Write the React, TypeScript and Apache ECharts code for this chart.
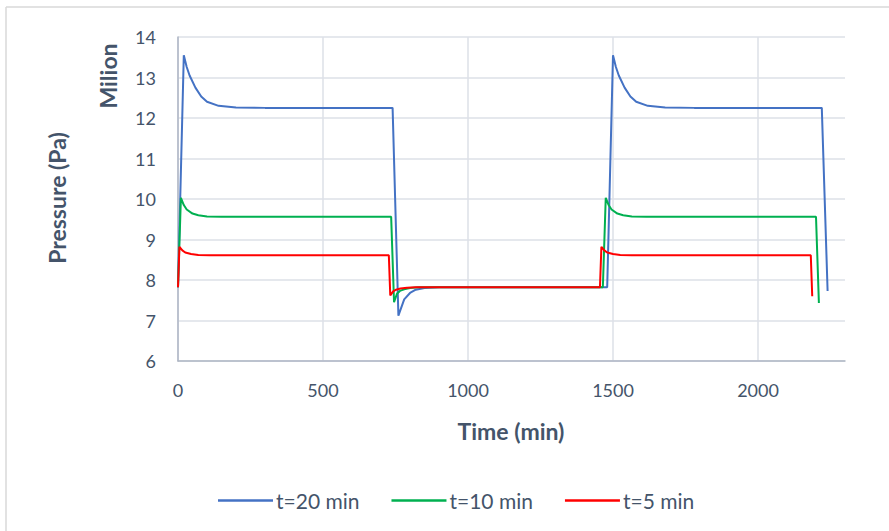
import React, { useEffect, useRef } from "react";
import * as echarts from "echarts";

// Time (min) / Pressure (million Pa)
const blueTime = [0, 20, 30, 40, 60, 80, 100, 140, 200, 300, 740, 760, 780, 800, 820, 850, 900, 1480, 1500, 1510, 1520, 1540, 1560, 1580, 1620, 1680, 1780, 2220, 2240];
const bluePress = [7.82, 13.55, 13.26, 13.05, 12.75, 12.53, 12.4, 12.3, 12.26, 12.25, 12.25, 7.12, 7.52, 7.68, 7.76, 7.8, 7.82, 7.82, 13.55, 13.26, 13.05, 12.75, 12.53, 12.4, 12.3, 12.26, 12.25, 12.25, 7.73];

const greenTime = [0, 10, 20, 30, 50, 70, 100, 150, 735, 745, 755, 765, 780, 800, 830, 1465, 1475, 1485, 1495, 1515, 1535, 1565, 1615, 2200, 2210];
const greenPress = [7.82, 10.03, 9.85, 9.74, 9.64, 9.6, 9.57, 9.56, 9.56, 7.45, 7.66, 7.73, 7.77, 7.8, 7.82, 7.82, 10.03, 9.85, 9.74, 9.64, 9.6, 9.57, 9.56, 9.56, 7.43];

const redTime = [0, 5, 15, 25, 45, 70, 110, 727, 732, 742, 752, 767, 790, 820, 1455, 1460, 1470, 1480, 1500, 1525, 1565, 2182, 2187];
const redPress = [7.82, 8.82, 8.73, 8.68, 8.64, 8.62, 8.61, 8.61, 7.62, 7.72, 7.76, 7.79, 7.81, 7.82, 7.82, 8.82, 8.73, 8.68, 8.64, 8.62, 8.61, 8.61, 7.6];

const seriesNames = ["t=20 min", "t=10 min", "t=5 min"];
const seriesColors = ["#4472C4", "#00B050", "#FF0000"];
const xTicks = [0, 500, 1000, 1500, 2000];

const FONT = "Lato, 'Noto Sans', sans-serif";
const TXT = "#44546A";

export default function App() {
  const ref = useRef<HTMLDivElement>(null);
  useEffect(() => {
    if (!ref.current) return;
    const chart = echarts.init(ref.current, undefined, { renderer: "svg" });
    const pairs = (t: number[], v: number[]) => t.map((x, i) => [x, v[i]]);
    const allData = [pairs(blueTime, bluePress), pairs(greenTime, greenPress), pairs(redTime, redPress)];
    chart.setOption({
      animation: false,
      backgroundColor: "#ffffff",
      textStyle: { fontFamily: FONT },
      grid: { left: 178, right: 44, top: 37, bottom: 170 },
      xAxis: {
        type: "value",
        min: 0,
        max: 2300,
        interval: 500,
        axisLine: { show: true, lineStyle: { color: "#AEB6C4", width: 1.5 } },
        axisTick: { show: false },
        axisLabel: {
          color: TXT,
          fontSize: 18,
          fontFamily: FONT,
          margin: 20,
          formatter: (v: number) => (xTicks.indexOf(v) >= 0 ? String(v) : ""),
        },
        splitLine: {
          show: true,
          lineStyle: { color: ["#DCE0E7", "#DCE0E7", "#DCE0E7", "#DCE0E7", "#DCE0E7", "rgba(0,0,0,0)"], width: 1.5 },
        },
      },
      yAxis: {
        type: "value",
        min: 6,
        max: 14,
        interval: 1,
        axisLine: { show: true, lineStyle: { color: "#AEB6C4", width: 1.5 } },
        axisTick: { show: false },
        axisLabel: { color: TXT, fontSize: 18, fontFamily: FONT, margin: 22 },
        splitLine: { show: true, lineStyle: { color: "#DCE0E7", width: 1.5 } },
      },
      legend: {
        data: seriesNames,
        left: 213,
        top: 485,
        icon: "rect",
        itemWidth: 55,
        itemHeight: 2.5,
        itemGap: 32,
        textStyle: { color: TXT, fontSize: 21, fontFamily: FONT, padding: [0, 0, 0, -2] },
      },
      series: allData.map((d, i) => ({
        name: seriesNames[i],
        type: "line",
        data: d,
        symbol: "none",
        lineStyle: { color: seriesColors[i], width: 2 },
        itemStyle: { color: seriesColors[i] },
      })),
      graphic: [
        { type: "line", shape: { x1: 6, y1: 7, x2: 889, y2: 7 }, style: { stroke: "#D9D9D9", lineWidth: 1.5 } },
        { type: "line", shape: { x1: 6, y1: 7, x2: 6, y2: 531 }, style: { stroke: "#D9D9D9", lineWidth: 1.5 } },
        {
          type: "text",
          x: 108,
          y: 76,
          rotation: Math.PI / 2,
          style: { text: "Milion", fill: TXT, font: `bold 23px ${FONT}`, textAlign: "center", textVerticalAlign: "middle" },
        },
        {
          type: "text",
          x: 57,
          y: 198,
          rotation: Math.PI / 2,
          style: { text: "Pressure (Pa)", fill: TXT, font: `bold 23px ${FONT}`, textAlign: "center", textVerticalAlign: "middle" },
        },
        {
          type: "text",
          x: 511,
          y: 431,
          style: { text: "Time (min)", fill: TXT, font: `bold 23px ${FONT}`, textAlign: "center", textVerticalAlign: "middle" },
        },
      ],
    });
    return () => chart.dispose();
  }, []);
  return <div ref={ref} style={{ position: "fixed", left: 0, top: 0, width: 889, height: 531 }} />;
}
